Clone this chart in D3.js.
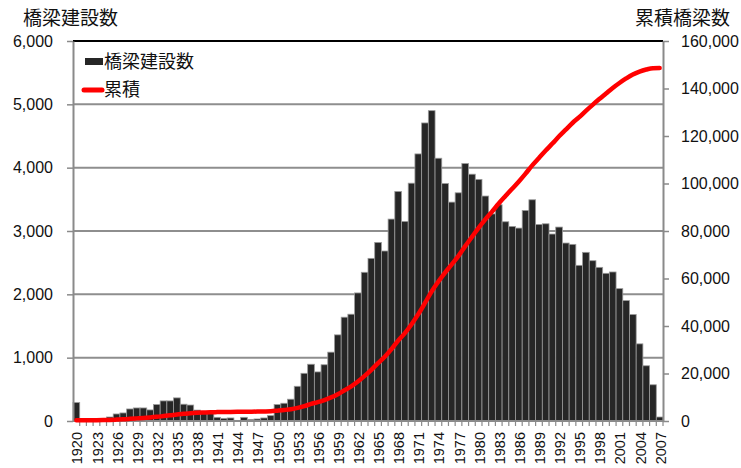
<!DOCTYPE html>
<html><head><meta charset="utf-8">
<script src="https://cdn.jsdelivr.net/npm/d3@7"></script>
<style>body{margin:0;background:#fff} svg{display:block}</style>
</head><body><svg id="chart" width="741" height="468"></svg>
<script>
// Bridges built per year (count) and labels
const years = [1920,1921,1922,1923,1924,1925,1926,1927,1928,1929,
  1930,1931,1932,1933,1934,1935,1936,1937,1938,1939,
  1940,1941,1942,1943,1944,1945,1946,1947,1948,1949,
  1950,1951,1952,1953,1954,1955,1956,1957,1958,1959,
  1960,1961,1962,1963,1964,1965,1966,1967,1968,1969,
  1970,1971,1972,1973,1974,1975,1976,1977,1978,1979,
  1980,1981,1982,1983,1984,1985,1986,1987,1988,1989,
  1990,1991,1992,1993,1994,1995,1996,1997,1998,1999,
  2000,2001,2002,2003,2004,2005,2006,2007];
const bridges = [291,26,20,30,40,63,111,127,190,206,
  206,175,259,317,317,365,265,252,172,132,
  122,58,42,48,10,58,26,32,48,85,
  259,280,344,548,753,896,775,888,1087,1360,
  1639,1686,2022,2348,2568,2820,2684,3188,3624,3151,
  3755,4217,4706,4900,4149,3750,3456,3603,4065,3897,
  3815,3552,3270,3414,3146,3072,3046,3325,3493,3104,
  3114,2952,3062,2810,2789,2458,2663,2531,2426,2332,
  2353,2090,1901,1681,1218,872,572,63];
const leftTicks = [0,1000,2000,3000,4000,5000,6000];
const rightTicks = [0,20000,40000,60000,80000,100000,120000,140000,160000];
const yearLabels = [1920,1923,1926,1929,1932,1935,1938,1941,1944,1947,1950,1953,1956,
  1959,1962,1965,1968,1971,1974,1977,1980,1983,1986,1989,1992,1995,1998,2001,2004,2007];
const leftTitle = "橋梁建設数";
const rightTitle = "累積橋梁数";
const barName = "橋梁建設数";
const lineName = "累積";

// running total of bridges for the line series
const cumulative = Array.from(d3.cumsum(bridges));

const svg = d3.select("#chart");
const plot = {left: 73, right: 663, top: 41, bottom: 421};
const numFont = "'Liberation Sans', Arial, sans-serif";
const cjkFont = "'Noto Sans CJK JP', sans-serif";

const x = d3.scaleBand().domain(years).range([plot.left, plot.right]).padding(0);
const y = d3.scaleLinear().domain([0, 6000]).range([plot.bottom, plot.top]);
const y2 = d3.scaleLinear().domain([0, 160000]).range([plot.bottom, plot.top]);

// horizontal gridlines
svg.append("g").selectAll("line")
  .data(leftTicks.filter(d => d > 0 && d < 6000))
  .join("line")
  .attr("x1", plot.left).attr("x2", plot.right)
  .attr("y1", d => y(d)).attr("y2", d => y(d))
  .attr("stroke", "#8e8e8e").attr("stroke-width", 2);

// top border
svg.append("line")
  .attr("x1", plot.left).attr("x2", plot.right)
  .attr("y1", plot.top).attr("y2", plot.top)
  .attr("stroke", "#000").attr("stroke-width", 2);

// bars
svg.append("g").selectAll("rect")
  .data(years)
  .join("rect")
  .attr("x", d => x(d))
  .attr("width", x.bandwidth())
  .attr("y", (d, i) => y(bridges[i]))
  .attr("height", (d, i) => y(0) - y(bridges[i]))
  .attr("fill", "#262626")
  .attr("stroke", "#9a9a9a")
  .attr("stroke-width", 0.8);

// left axis
const gl = svg.append("g").attr("transform", `translate(${plot.left},0)`)
  .call(d3.axisLeft(y).tickValues(leftTicks).tickSize(6).tickSizeOuter(0)
    .tickPadding(14).tickFormat(d3.format(",")));
gl.select(".domain").attr("stroke", "#8a8a8a").attr("stroke-width", 2);
gl.selectAll(".tick line").attr("stroke", "#8a8a8a").attr("stroke-width", 1.5);
gl.selectAll("text").attr("font-family", numFont).attr("font-size", 16).attr("fill", "#111");

// right axis
const gr = svg.append("g").attr("transform", `translate(${plot.right},0)`)
  .call(d3.axisRight(y2).tickValues(rightTicks).tickSize(6).tickSizeOuter(0)
    .tickPadding(12).tickFormat(d3.format(",")));
gr.select(".domain").attr("stroke", "#8a8a8a").attr("stroke-width", 2);
gr.selectAll(".tick line").attr("stroke", "#8a8a8a").attr("stroke-width", 1.5);
gr.selectAll("text").attr("font-family", numFont).attr("font-size", 16).attr("fill", "#111");

// bottom axis line and ticks between categories
svg.append("line")
  .attr("x1", plot.left).attr("x2", plot.right)
  .attr("y1", plot.bottom).attr("y2", plot.bottom)
  .attr("stroke", "#8a8a8a").attr("stroke-width", 2);
svg.append("g").selectAll("line")
  .data(years.slice(1).concat(["end"]))
  .join("line")
  .attr("x1", d => d === "end" ? plot.right : x(d))
  .attr("x2", d => d === "end" ? plot.right : x(d))
  .attr("y1", plot.bottom).attr("y2", plot.bottom + 5)
  .attr("stroke", "#8a8a8a").attr("stroke-width", 1.2);

// rotated year labels
svg.append("g").selectAll("text")
  .data(yearLabels)
  .join("text")
  .attr("transform", d => `translate(${x(d) + x.bandwidth() / 2 + 1},${plot.bottom + 11}) rotate(-90)`)
  .attr("text-anchor", "end")
  .attr("dy", "0.35em")
  .attr("font-family", numFont)
  .attr("font-size", 14.5)
  .attr("fill", "#111")
  .text(d => d);

// cumulative line
const line = d3.line()
  .x((d, i) => x(years[i]) + x.bandwidth() / 2)
  .y(d => y2(d))
  .curve(d3.curveMonotoneX);
svg.append("path")
  .datum(cumulative)
  .attr("d", line)
  .attr("fill", "none")
  .attr("stroke", "#ff0000")
  .attr("stroke-width", 4.5)
  .attr("stroke-linecap", "round");

// axis titles
svg.append("text").attr("x", 23).attr("y", 25)
  .attr("font-family", cjkFont).attr("font-size", 19).attr("fill", "#111")
  .text(leftTitle);
svg.append("text").attr("x", 730).attr("y", 25).attr("text-anchor", "end")
  .attr("font-family", cjkFont).attr("font-size", 19).attr("fill", "#111")
  .text(rightTitle);

// legend
const lg = svg.append("g");
lg.append("rect").attr("x", 85).attr("y", 58).attr("width", 18).attr("height", 7).attr("fill", "#262626");
lg.append("text").attr("x", 104).attr("y", 62).attr("dy", "0.35em")
  .attr("font-family", cjkFont).attr("font-size", 18).attr("fill", "#111").text(barName);
lg.append("line").attr("x1", 84).attr("x2", 102).attr("y1", 90).attr("y2", 90)
  .attr("stroke", "#ff0000").attr("stroke-width", 5).attr("stroke-linecap", "round");
lg.append("text").attr("x", 104).attr("y", 90).attr("dy", "0.35em")
  .attr("font-family", cjkFont).attr("font-size", 18).attr("fill", "#111").text(lineName);
</script>
</body></html>
